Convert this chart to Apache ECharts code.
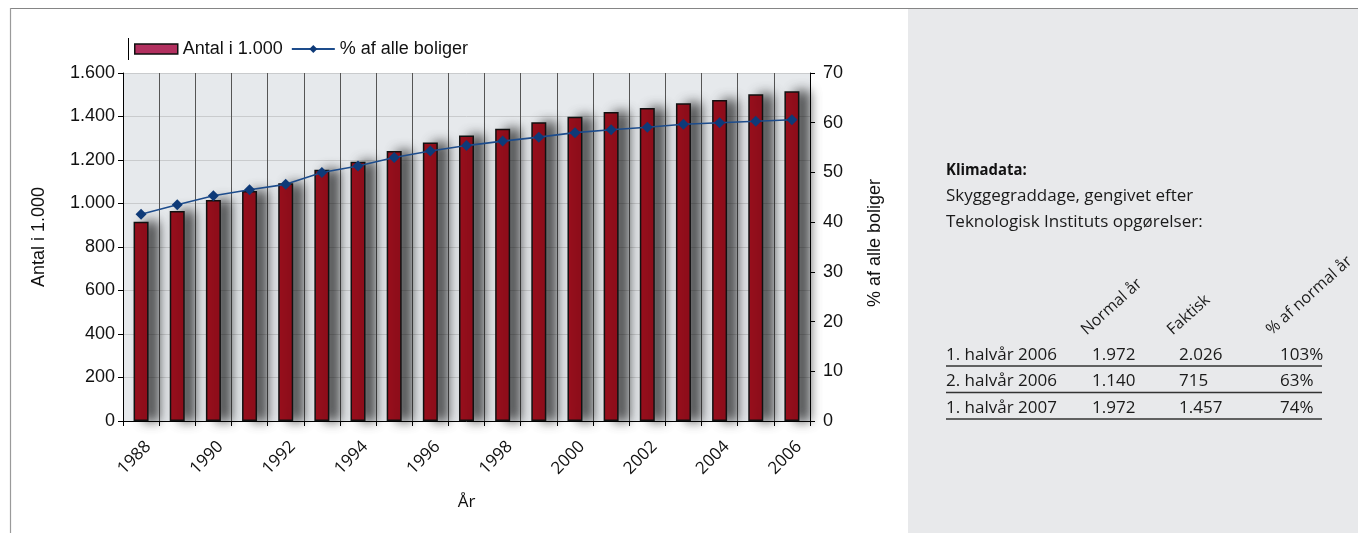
<!DOCTYPE html>
<html>
<head>
<meta charset="utf-8">
<script src="https://cdn.jsdelivr.net/npm/echarts@6/dist/echarts.min.js"></script>
<style>
  html, body { margin: 0; padding: 0; background: #ffffff; }
  #chart { width: 1358px; height: 533px; }
</style>
</head>
<body>
<div id="chart"></div>
<script>
// Housing stock by year (thousands) and share of all dwellings (%)
const years = ['1988', '1989', '1990', '1991', '1992', '1993', '1994', '1995', '1996', '1997',
               '1998', '1999', '2000', '2001', '2002', '2003', '2004', '2005', '2006'];
const antal = [916, 965, 1016, 1057, 1093, 1155, 1192, 1241, 1281, 1313,
               1344, 1373, 1399, 1421, 1439, 1461, 1476, 1502, 1516];
const pctBoliger = [41.6, 43.5, 45.3, 46.5, 47.6, 50.0, 51.3, 53.0, 54.3, 55.4,
                    56.3, 57.1, 58.0, 58.6, 59.1, 59.7, 60.0, 60.3, 60.6];

const seriesNames = ['Antal i 1.000', '% af alle boliger'];
const axisNames = { x: 'År', left: 'Antal i 1.000', right: '% af alle boliger' };

// Side panel: climate data
const infoTitle = 'Klimadata:';
const infoLines = ['Skyggegraddage, gengivet efter', 'Teknologisk Instituts opgørelser:'];
const tableHeaders = ['Normal år', 'Faktisk', '% af normal år'];
const tableRows = [
  ['1. halvår 2006', '1.972', '2.026', '103%'],
  ['2. halvår 2006', '1.140', '715', '63%'],
  ['1. halvår 2007', '1.972', '1.457', '74%']
];

const thousands = v => String(v).replace(/\B(?=(\d{3})+(?!\d))/g, '.');

const panelFont = '"Open Sans", "Noto Sans", sans-serif';
const chartFont = '"Liberation Sans", Arial, sans-serif';

// Panel graphics
const graphics = [
  { type: 'rect', z: 0, shape: { x: 908, y: 9, width: 450, height: 524 }, style: { fill: '#e8e9eb' } },
  { type: 'line', z: 1, shape: { x1: 10, y1: 8.5, x2: 1358, y2: 8.5 }, style: { stroke: '#858585', lineWidth: 1.2 } },
  { type: 'line', z: 1, shape: { x1: 10.5, y1: 8, x2: 10.5, y2: 533 }, style: { stroke: '#9a9a9a', lineWidth: 1.2 } },
  { type: 'line', z: 1, shape: { x1: 128.5, y1: 38, x2: 128.5, y2: 60 }, style: { stroke: '#000', lineWidth: 1 } },
  { type: 'text', z: 2, x: 946, y: 170, scaleX: 0.93,
    style: { text: infoTitle, font: 'bold 16px ' + panelFont, fill: '#111', textAlign: 'left', textVerticalAlign: 'middle' } }
];
infoLines.forEach((t, i) => {
  graphics.push({ type: 'text', z: 2, x: 946, y: 196 + i * 26.5,
    style: { text: t, font: '17px ' + panelFont, fill: '#1a1a1a', textAlign: 'left', textVerticalAlign: 'middle' } });
});
const headerX = [1089, 1175, 1274];
tableHeaders.forEach((t, i) => {
  graphics.push({ type: 'text', z: 2, x: headerX[i], y: 338, rotation: 42 * Math.PI / 180,
    style: { text: t, font: '16px ' + panelFont, fill: '#1a1a1a', textAlign: 'left', textVerticalAlign: 'bottom' } });
});
const colX = [946, 1092, 1179, 1280];
tableRows.forEach((row, r) => {
  row.forEach((cell, c) => {
    graphics.push({ type: 'text', z: 2, x: colX[c], y: 355 + r * 26.5,
      style: { text: cell, font: '17px ' + panelFont, fill: '#1a1a1a', textAlign: 'left', textVerticalAlign: 'middle' } });
  });
  graphics.push({ type: 'line', z: 2, shape: { x1: 946, y1: 366 + r * 26.5, x2: 1322, y2: 366 + r * 26.5 },
    style: { stroke: '#333', lineWidth: 1.5 } });
});

const chart = echarts.init(document.getElementById('chart'), null, { renderer: 'canvas' });
chart.setOption({
  animation: false,
  backgroundColor: '#ffffff',
  textStyle: { fontFamily: chartFont },
  graphic: graphics,
  legend: {
    left: 134, top: 40, padding: 0,
    itemWidth: 43, itemHeight: 10, itemGap: 8,
    textStyle: { fontSize: 18, color: '#111', fontFamily: chartFont },
    data: [
      { name: seriesNames[0], icon: 'rect',
        itemStyle: { color: '#b2305f', borderColor: '#111', borderWidth: 1.5, shadowBlur: 0, shadowOffsetX: 0 } },
      { name: seriesNames[1] }
    ]
  },
  grid: {
    left: 123, right: 548, top: 73, bottom: 112,
    show: true, backgroundColor: '#e6e9ec', borderWidth: 0,
    outerBoundsMode: 'none'
  },
  xAxis: {
    type: 'category',
    data: years,
    name: axisNames.x,
    nameLocation: 'middle',
    nameGap: 73,
    nameTextStyle: { fontSize: 17, color: '#111', fontFamily: panelFont },
    axisLine: { lineStyle: { color: '#000', width: 1 } },
    axisTick: { show: true, interval: 0, length: 5, lineStyle: { color: '#000' } },
    axisLabel: {
      interval: 1, rotate: 45, margin: 16,
      formatter: v => '{y|' + v + '}',
      rich: { y: { fontSize: 17, color: '#111', fontFamily: panelFont, padding: [20, 0, 0, 0] } }
    },
    splitLine: { show: true, interval: 0, lineStyle: { color: '#555', width: 1 } }
  },
  yAxis: [
    {
      type: 'value', min: 0, max: 1600, interval: 200,
      name: axisNames.left, nameLocation: 'middle', nameGap: 75, nameRotate: 90,
      nameTextStyle: { fontSize: 18, color: '#111', padding: [0, 0, 0, 20] },
      axisLine: { show: true, lineStyle: { color: '#000' } },
      axisTick: { show: true, length: 5, lineStyle: { color: '#000' } },
      axisLabel: { fontSize: 18, color: '#111', margin: 8, formatter: v => thousands(v) },
      splitLine: { show: true, lineStyle: { color: '#c9cbcd', width: 1 } }
    },
    {
      type: 'value', min: 0, max: 70, interval: 10, position: 'right',
      name: axisNames.right, nameLocation: 'middle', nameGap: 56, nameRotate: 90,
      nameTextStyle: { fontSize: 18, color: '#111', padding: [0, 0, 0, 8] },
      axisLine: { show: true, lineStyle: { color: '#000' } },
      axisTick: { show: true, length: 5, lineStyle: { color: '#000' } },
      axisLabel: { fontSize: 18, color: '#111', margin: 13 },
      splitLine: { show: false }
    }
  ],
  series: [
    {
      name: seriesNames[0],
      type: 'bar',
      data: antal,
      yAxisIndex: 0,
      barWidth: 15,
      itemStyle: {
        color: '#9b0f1d', borderColor: '#111', borderWidth: 1.5,
        shadowColor: 'rgba(0,0,0,0.7)', shadowBlur: 12, shadowOffsetX: 10
      }
    },
    {
      name: seriesNames[1],
      type: 'line',
      data: pctBoliger,
      yAxisIndex: 1,
      symbol: 'diamond',
      symbolSize: 11,
      lineStyle: { color: '#1d4c8c', width: 1.6 },
      itemStyle: { color: '#0e3a78' },
      z: 5
    }
  ]
});
</script>
</body>
</html>
